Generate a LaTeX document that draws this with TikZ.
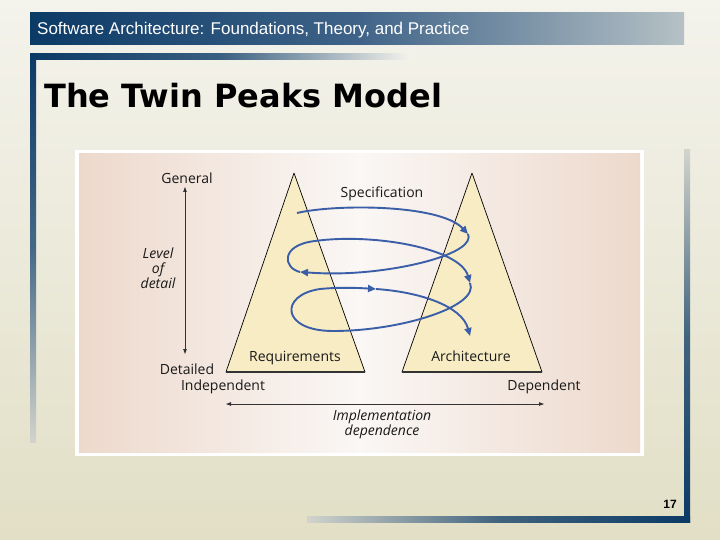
\documentclass[tikz,border=0pt]{standalone}
\usepackage{fontspec}
\setmainfont{Liberation Sans}
\newfontfamily\titlefont{DejaVu Sans}
\newfontfamily\labelfont{Open Sans}
\usetikzlibrary{arrows.meta}
\definecolor{navy}{HTML}{0B3A66}
\definecolor{navymid}{HTML}{3F6388}
\definecolor{hdrright}{HTML}{B5C1C5}
\definecolor{bgtop}{HTML}{F4F3EC}
\definecolor{bgbot}{HTML}{E2DFC6}
\definecolor{fadegray}{HTML}{D2D4CC}
\definecolor{peak}{HTML}{F8ECC4}
\definecolor{spiralblue}{HTML}{3A5EA8}
\definecolor{pinkedge}{HTML}{EDD9CC}
\definecolor{pinkmid}{HTML}{FAF7F5}
\definecolor{dimgray}{HTML}{333333}
\tikzset{
  lbl/.style={font=\labelfont\fontsize{14}{16}\selectfont, text=black!90, inner sep=0pt},
  ilbl/.style={lbl, font=\labelfont\itshape\fontsize{14}{16}\selectfont},
  peakshape/.style={fill=peak, draw=black, line width=0.7pt, line join=round},
  peakbase/.style={draw=black!80, line width=1.4pt},
  spiralline/.style={draw=spiralblue, line width=1.9pt, -{Triangle[length=8pt,width=7pt]}},
  dimarrow/.style={draw=dimgray, line width=0.8pt, {Triangle[length=5pt,width=3.5pt]}-{Triangle[length=5pt,width=3.5pt]}}
}
\begin{document}
\begin{tikzpicture}[x=1pt,y=-1pt]
\useasboundingbox (0,0) rectangle (720,540);
% background
\shade[top color=bgtop, bottom color=bgbot] (0,0) rectangle (720,540);
% header bar
\shade[left color=navy, right color=hdrright, middle color=navymid] (30,13) rectangle (684,45);
\node[anchor=base west, text=white, inner sep=0pt, font=\fontsize{17}{19}\selectfont] (hdr) at (37,35) {Software Architecture: Foundations, Theory, and Practice};
% frame bars
\shade[left color=navy, right color=bgtop, middle color=navy!80!bgtop] (30,54) rectangle (410,60);
\shade[top color=navy, bottom color=fadegray, middle color=navy!75!bgtop] (30,54) rectangle (36,442);
\shade[top color=fadegray, bottom color=navy, middle color=navy!75!bgbot] (684,150) rectangle (690,522);
\shade[left color=fadegray, right color=navy, middle color=navy!75!bgbot] (307,516) rectangle (690,522);
% title
\node[anchor=base west, inner sep=0pt, font=\titlefont\bfseries\fontsize{32}{36}\selectfont] (title) at (44,108) {The Twin Peaks Model};
% page number
\node[inner sep=0pt, font=\bfseries\fontsize{12}{14}\selectfont] (pnum) at (670,504.5) {17};
% picture panel
\fill[white] (75,150) rectangle (644,456);
\shade[left color=pinkedge, right color=pinkedge, middle color=pinkmid] (79,154) rectangle (640,452);
% peaks
\coordinate (la) at (294,173);
\coordinate (lb) at (226,372);
\coordinate (lc) at (365,372);
\coordinate (ra) at (472,173);
\coordinate (rb) at (402,372);
\coordinate (rc) at (542,372);
\draw[peakshape] (la) -- (lc) -- (lb) -- cycle;
\draw[peakshape] (ra) -- (rc) -- (rb) -- cycle;
\draw[peakbase] (lb) -- (lc);
\draw[peakbase] (rb) -- (rc);
% spiral
\coordinate (s0) at (297,213);
\coordinate (s1) at (468,234);
\coordinate (s2) at (300,272);
\coordinate (s3) at (470,283);
\coordinate (s4) at (376,289);
\coordinate (s5) at (470,336);
\draw[spiralline] (s0) .. controls (335,204) and (440,204) .. (s1);
\draw[spiralline] (s1) .. controls (476,252) and (410,270) .. (350,273) .. controls (330,274) and (315,273) .. (s2);
\draw[spiralline] (s2) .. controls (283,268) and (280,245) .. (315,241) .. controls (372,233) and (460,248) .. (s3);
\draw[spiralline] (s3) .. controls (480,306) and (402,331) .. (333,331) .. controls (281,331) and (279,295) .. (320,289) .. controls (340,287) and (360,288) .. (s4);
\draw[spiralline] (s4) .. controls (420,292) and (462,306) .. (s5);
% labels
\node[lbl] (spec) at (382,194) {Specification};
\node[lbl, anchor=base] (req) at (295,361) {Requirements};
\node[lbl, anchor=base] (arch) at (471,361) {Architecture};
\node[lbl] (gen) at (187,178) {General};
\node[lbl] (det) at (187,369) {Detailed};
\node[ilbl, align=center] (lod) at (158,268) {Level\\[-1pt]of\\[-1pt]detail};
\node[lbl] (indep) at (223,387) {Independent};
\node[lbl] (dep) at (544,387) {Dependent};
\node[ilbl, align=center] (impl) at (382,424) {Implementation\\[-1pt]dependence};
% dimension arrows
\coordinate (vtop) at (185,187);
\coordinate (vbot) at (185,354);
\coordinate (hl) at (226,404);
\coordinate (hr) at (544,404);
\draw[dimarrow] (vtop) -- (vbot);
\draw[dimarrow] (hl) -- (hr);
\end{tikzpicture}
\end{document}
